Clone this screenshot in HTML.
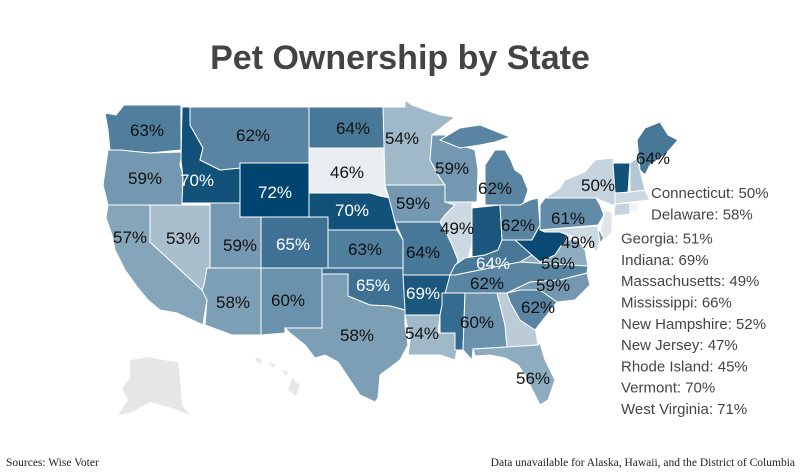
<!DOCTYPE html>
<html><head><meta charset="utf-8"><style>
body{margin:0;background:#fff;}
svg{display:block;font-family:"Liberation Sans",Arial,sans-serif;}
</style></head><body>
<svg id="chart" width="800" height="475" viewBox="0 0 800 475">
<text x="400" y="69" text-anchor="middle" font-size="34" font-weight="bold" fill="#444">Pet Ownership by State</text>
<g id="ak-hi">
<path d="M130,360 L150,357 L162,360 L178,362 L180,380 L182,405 L190,415 L172,408 L150,402 L132,412 L118,415 L128,400 L122,388 L130,378 Z" fill="#e6e6e6"/>
<path d="M255,358 L260,358 L262,362 L258,363 Z M268,363 L275,364 L274,368 Z M282,370 L288,372 L286,376 Z M292,378 L300,386 L296,396 L288,390 Z" fill="#e6e6e6"/>
</g>
<g id="states"></g>
<g id="labels"></g>
<g id="legend" font-size="15" fill="#444"></g>
<text x="6" y="466" font-family="Liberation Serif,serif" font-size="11.5" fill="#222">Sources: Wise Voter</text>
<text x="795" y="466" text-anchor="end" font-family="Liberation Serif,serif" font-size="11.5" fill="#222">Data unavailable for Alaska, Hawaii, and the District of Columbia</text>
</svg>
<script>
const stateNames=["WA","OR","CA","ID","NV","MT","WY","UT","AZ","CO","NM","ND","SD","NE","KS","OK","TX","MN","IA","MO","AR","LA","WI","IL","MI","IN","OH","KY","TN","MS","AL","GA","FL","SC","NC","VA","WV","MD","PA","NY","VT","NH","ME","MA","CT","RI","NJ","DE"];
const stateValues=[63,59,57,70,53,62,72,59,58,65,60,64,46,70,63,65,58,54,59,64,69,54,59,49,62,69,62,64,62,66,60,51,56,62,59,56,71,49,61,50,70,52,64,49,50,45,47,58];
const labeledStates=["WA","MT","ND","MN","SD","ID","OR","WY","NE","CA","NV","UT","CO","KS","OK","AZ","NM","TX","WI","MI","IA","IL","MO","OH","PA","NY","ME","KY","VA","MD","TN","NC","SC","AR","LA","AL","FL"];
const legendNames=["Connecticut","Delaware","Georgia","Indiana","Massachusetts","Mississippi","New Hampshire","New Jersey","Rhode Island","Vermont","West Virginia"];
const legendValues=[50,58,51,69,49,66,52,47,45,70,71];

const shapes={
WA:"105,113 116,115 124,105 181,105 181,150 150,153 120,150 110,150 108,130",
OR:"108,150 120,150 150,153 182,152 180,165 183,175 182,205 108,205 103,185",
CA:"108,205 150,205 150,242 202,290 207,300 205,312 203,325 177,313 160,310 148,300 138,288 125,270 115,250 112,235 106,218",
ID:"182,107 190,107 190,125 203,148 200,160 220,170 240,168 240,203 182,203 183,178 181,160",
NV:"150,205 210,205 210,268 207,268 204,285 202,290 150,242",
MT:"190,107 309,107 309,163 240,163 240,168 220,170 200,160 203,148 190,125",
WY:"240,163 309,163 309,217 240,217",
UT:"210,203 240,203 240,217 261,217 261,268 210,268",
AZ:"210,268 261,268 261,335 232,335 205,325 207,300 202,290 204,285 207,268",
CO:"261,217 328,217 328,268 261,268",
NM:"261,268 322,268 322,328 285,328 285,333 261,335",
ND:"309,107 383,107 385,148 309,148",
SD:"309,148 385,148 385,190 390,198 380,196 370,193 309,193",
NE:"309,193 370,193 380,196 390,198 394,215 397,230 328,230 328,217 309,217",
KS:"328,230 397,230 403,240 403,268 328,268",
OK:"322,268 403,268 405,275 405,310 390,306 370,305 348,296 348,274 322,274",
TX:"322,274 348,274 348,296 370,305 390,306 405,310 405,325 408,345 400,360 380,375 378,398 375,402 360,395 350,380 338,362 325,355 315,358 305,345 290,333 285,328 322,328",
MN:"383,107 405,107 405,100 412,105 440,115 455,117 432,135 430,160 440,178 445,185 385,185",
IA:"385,185 445,185 450,195 455,205 445,215 440,222 395,222 392,210 388,195",
MO:"395,222 440,222 445,230 452,245 458,260 455,272 450,275 403,275 403,240",
AR:"403,275 450,275 447,290 442,305 440,315 405,315 405,310",
LA:"405,315 440,315 438,333 455,333 458,345 455,360 440,355 420,355 408,355 410,340",
WI:"432,135 445,135 460,145 475,150 478,170 477,202 445,202 445,185 440,178 430,160",
IL:"445,202 472,202 472,245 468,258 460,268 455,272 458,260 452,245 445,230 440,222 445,215 455,205",
MI:"485,205 523,205 528,190 522,175 515,170 510,158 505,150 495,150 485,165 485,185 M440,140 460,128 480,125 500,133 510,137 495,142 480,145 460,148",
IN:"472,208 500,205 502,240 498,250 485,255 472,257",
OH:"500,205 520,205 530,200 538,198 540,225 532,240 515,245 502,240",
KY:"455,275 480,270 520,262 532,255 525,245 515,240 502,240 498,250 485,255 472,257 465,258 455,265 450,275",
TN:"450,275 455,275 480,270 520,262 588,266 587,273 560,280 530,282 507,293 447,293 442,305",
MS:"442,293 465,293 463,350 455,350 455,333 440,333 440,315 442,305",
AL:"465,293 497,293 505,325 507,347 473,349 472,360 463,350",
GA:"497,293 507,293 520,305 535,325 538,345 510,347 507,347 505,325",
FL:"473,349 507,347 538,345 540,343 545,360 555,380 548,400 540,405 535,395 525,375 518,365 505,358 490,355 475,356",
SC:"507,293 520,290 540,290 557,302 535,330 520,320 510,302",
NC:"507,293 530,282 560,280 587,273 590,285 575,300 557,302 540,290 520,290",
VA:"520,262 532,255 540,262 555,255 565,240 578,240 585,250 588,266",
WV:"515,240 532,240 540,225 545,232 560,232 568,235 555,255 540,262 532,255",
MD:"540,230 598,226 600,240 597,252 590,245 580,238 568,235 560,232 545,232",
PA:"540,205 545,198 596,198 600,205 604,215 598,225 540,230",
NY:"545,198 560,188 565,180 585,172 595,160 613,158 615,178 615,198 620,205 612,205 600,200 596,198",
VT:"613,163 630,163 628,193 615,193",
NH:"630,163 637,158 640,170 645,190 630,192",
ME:"637,158 640,170 637,140 645,128 660,122 668,135 678,140 665,155 650,165 645,175 640,170",
MA:"615,193 630,192 645,190 650,200 632,202 615,204",
CT:"615,204 630,203 630,214 614,216",
RI:"630,203 638,203 638,212 630,213",
NJ:"604,210 612,212 612,232 605,240 600,230 603,220",
DE:"598,228 604,238 600,243"
};
const labelPos={WA:[147,130],MT:[253,135],ND:[353,128],MN:[402,138],SD:[347,172],ID:[197,180],OR:[145,178],WY:[275,192],NE:[352,210],CA:[130,237],NV:[183,238],UT:[240,245],CO:[293,244],KS:[365,249],OK:[373,285],AZ:[233,302],NM:[288,300],TX:[357,335],WI:[452,168],MI:[495,188],IA:[413,203],IL:[457,228],MO:[423,252],OH:[518,225],PA:[568,218],NY:[598,185],ME:[653,158],KY:[493,263],VA:[558,263],MD:[578,242],TN:[487,283],NC:[553,285],SC:[538,307],AR:[423,293],LA:[422,333],AL:[477,322],FL:[533,378]};

const vMin=45,vMax=72,light=[240,243,246],dark=[0,68,112];
function colorScale(v){const t=Math.max(0,Math.min(1,(v-vMin)/(vMax-vMin)));return "rgb("+light.map((c,i)=>Math.round(c+(dark[i]-c)*t)).join(",")+")";}
const NS="http://www.w3.org/2000/svg";
const gS=document.getElementById("states"),gL=document.getElementById("labels"),gLeg=document.getElementById("legend");
stateNames.forEach((s,i)=>{
  const parts=shapes[s].split(" M");
  parts.forEach((p,j)=>{
    const el=document.createElementNS(NS,"polygon");
    el.setAttribute("points",p);
    el.setAttribute("fill",colorScale(stateValues[i]));
    el.setAttribute("stroke","#fff");
    el.setAttribute("stroke-width","1");
    
    
    gS.appendChild(el);
  });
});
labeledStates.forEach(s=>{
  const i=stateNames.indexOf(s),p=labelPos[s],v=stateValues[i];
  const t=document.createElementNS(NS,"text");
  t.setAttribute("x",p[0]);t.setAttribute("y",p[1]+6);
  t.setAttribute("text-anchor","middle");t.setAttribute("font-size","17");
  t.setAttribute("fill",(v>=65||s==="KY")?"#fff":"#111");
  t.textContent=v+"%";
  
  
  gL.appendChild(t);
});
legendNames.forEach((n,i)=>{
  const t=document.createElementNS(NS,"text");
  t.setAttribute("x",i<2?651:621);
  t.setAttribute("y",198+i*21.3+(i>=2?3:0));
  t.textContent=n+": "+legendValues[i]+"%";
  
  
  gLeg.appendChild(t);
});
</script>
</body></html>
